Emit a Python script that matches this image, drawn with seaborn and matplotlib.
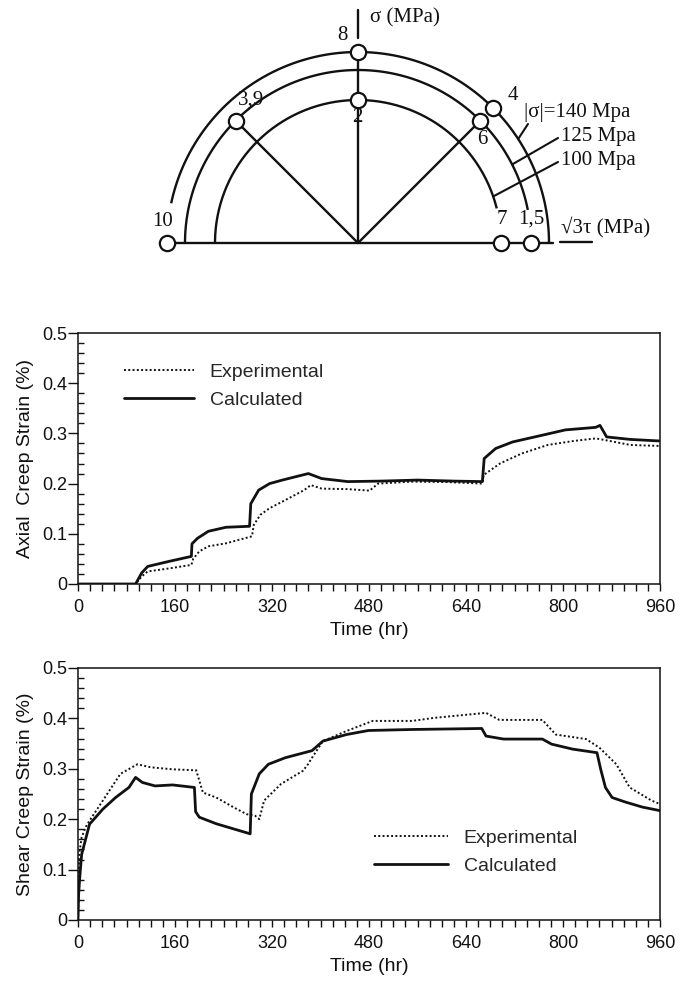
import numpy as np
import pandas as pd
import matplotlib
matplotlib.use("Agg")
import matplotlib.pyplot as plt
import seaborn as sns

# ---------------- data ----------------
stress_levels = [140, 125, 100]          # |sigma| rings (MPa)
load_labels = ["8", "2", "3,9", "6", "4", "7", "1,5", "10"]
load_levels = [140, 100, 125, 125, 140, 100, 125, 140]
load_angles = [90, 90, 135, 45, 45, 0, 0, 180]   # degrees from sqrt(3)tau axis

x_ticks = [0, 160, 320, 480, 640, 800, 960]
y_ticks = [0, 0.1, 0.2, 0.3, 0.4, 0.5]
y_tick_labels = ["0", "0.1", "0.2", "0.3", "0.4", "0.5"]

axial_t_calc = [0, 95, 105, 115, 150, 187, 188, 197, 215, 244, 283, 285, 298, 316,
                337, 360, 380, 402, 445, 500, 560, 620, 667, 670, 689, 717, 768,
                804, 854, 861, 872, 911, 958]
axial_calc = [0, 0, 0.022, 0.035, 0.045, 0.055, 0.08, 0.091, 0.105, 0.113, 0.115,
              0.16, 0.187, 0.2, 0.207, 0.214, 0.22, 0.21, 0.204, 0.205, 0.207,
              0.205, 0.204, 0.25, 0.27, 0.283, 0.297, 0.307, 0.312, 0.316, 0.293,
              0.288, 0.285]
axial_t_exp = [0, 95, 105, 115, 150, 187, 190, 200, 215, 244, 287, 290, 301, 316,
               337, 373, 384, 402, 445, 481, 495, 552, 610, 667, 669, 696, 732,
               775, 818, 854, 868, 911, 958]
axial_exp = [0, 0, 0.015, 0.025, 0.031, 0.038, 0.05, 0.065, 0.075, 0.081, 0.095,
             0.118, 0.138, 0.151, 0.164, 0.187, 0.197, 0.19, 0.189, 0.186, 0.2,
             0.204, 0.203, 0.2, 0.217, 0.24, 0.26, 0.277, 0.285, 0.29, 0.287,
             0.277, 0.275]

shear_t_calc = [0, 1, 3, 6, 19, 41, 62, 84, 95, 106, 127, 156, 192, 194, 200, 228,
                256, 284, 286, 299, 314, 342, 386, 404, 443, 479, 551, 666, 673,
                702, 766, 781, 816, 856, 862, 870, 881, 903, 931, 960]
shear_calc = [0, 0.05, 0.086, 0.13, 0.19, 0.22, 0.243, 0.263, 0.283, 0.273, 0.266,
              0.268, 0.263, 0.215, 0.204, 0.191, 0.181, 0.171, 0.25, 0.29, 0.309,
              0.322, 0.336, 0.355, 0.368, 0.376, 0.378, 0.38, 0.365, 0.359, 0.359,
              0.349, 0.339, 0.332, 0.30, 0.263, 0.243, 0.234, 0.224, 0.217]
shear_t_exp = [0, 2, 6, 13, 19, 41, 70, 98, 120, 156, 195, 206, 228, 256, 278, 292,
               299, 307, 335, 371, 380, 386, 404, 443, 486, 551, 587, 630, 673, 695,
               766, 788, 838, 860, 888, 910, 946, 960]
shear_exp = [0, 0.13, 0.164, 0.185, 0.197, 0.237, 0.29, 0.309, 0.303, 0.299, 0.297,
             0.253, 0.243, 0.224, 0.21, 0.207, 0.2, 0.237, 0.27, 0.296, 0.31, 0.322,
             0.355, 0.375, 0.395, 0.395, 0.401, 0.406, 0.411, 0.397, 0.397, 0.368,
             0.359, 0.342, 0.309, 0.263, 0.237, 0.23]

# ---------------- style ----------------
sns.set_theme(style="ticks")
plt.rcParams["font.family"] = ["Liberation Sans", "DejaVu Sans"]
INK = "#111111"
SERIF = ["Liberation Serif", "DejaVu Serif"]

fig = plt.figure(figsize=(6.81, 9.82), dpi=100)
W, H = 681.0, 982.0

# ---------------- top schematic (pixel units) ----------------
axd = fig.add_axes([0, 1 - 260 / H, 1, 260 / H])
axd.set_xlim(0, W)
axd.set_ylim(260, 0)
axd.axis("off")
cx, cy = 358, 243


def rad(level):
    # schematic ring radius (drawing is not to scale)
    return 23 + 1.2 * level


def pt(level, ang):
    a = np.deg2rad(ang)
    r = rad(level)
    return cx + r * np.cos(a), cy - r * np.sin(a)


arc_span = {140: (0, 168), 125: (11, 180), 100: (14, 180)}
for lev in stress_levels:
    a0, a1 = arc_span[lev]
    th = np.deg2rad(np.linspace(a0, a1, 200))
    axd.plot(cx + rad(lev) * np.cos(th), cy - rad(lev) * np.sin(th), color=INK, lw=1.7,
             solid_capstyle="butt")

# baseline, axes
axd.plot([165, 553], [cy, cy], color=INK, lw=1.7)
axd.plot([560, 592], [cy - 1, cy - 1], color=INK, lw=1.7)
axd.plot([cx, cx], [10, 38], color=INK, lw=1.7)
# radial lines
for lev, ang in [(125, 135), (140, 90), (125, 45)]:
    x1, y1 = pt(lev, ang)
    axd.plot([cx, x1], [cy, y1], color=INK, lw=1.7)

# leader lines for ring labels
for lev, ang, tx, ty in [(140, 33, 528, 124), (125, 27, 558, 138), (100, 19, 558, 162)]:
    x1, y1 = pt(lev, ang)
    axd.plot([x1, tx], [y1, ty], color=INK, lw=1.5)

# load points
for lab, lev, ang in zip(load_labels, load_levels, load_angles):
    x1, y1 = pt(lev, ang)
    axd.plot([x1], [y1], marker="o", ms=11, mfc="white", mec=INK, mew=1.6, zorder=5)

label_pos = {"8": (342, 36), "2": (357, 117), "3,9": (251, 100), "6": (482, 140),
             "4": (513, 96), "7": (502, 219), "1,5": (531, 219), "10": (163, 221)}
for lab in load_labels:
    x, y = label_pos[lab]
    axd.text(x, y, lab, ha="center", va="center", fontsize=15, family=SERIF, color=INK)

axd.text(370, 18, "\u03c3 (MPa)", ha="left", va="center", fontsize=15, family=SERIF, color=INK)
axd.text(524, 113, "|\u03c3|=140 Mpa", ha="left", va="center", fontsize=15, family=SERIF, color=INK)
axd.text(561, 137, "125 Mpa", ha="left", va="center", fontsize=15, family=SERIF, color=INK)
axd.text(561, 160, "100 Mpa", ha="left", va="center", fontsize=15, family=SERIF, color=INK)
axd.text(561, 227, "\u221a3\u03c4 (MPa)", ha="left", va="center", fontsize=15, family=SERIF, color=INK)


# ---------------- strain plots ----------------
def style_axes(ax, ylabel):
    ax.set_xlim(0, 960)
    ax.set_ylim(0, 0.5)
    ax.set_xticks(x_ticks)
    ax.set_xticks(np.arange(0, 961, 20), minor=True)
    ax.set_yticks(y_ticks)
    ax.set_yticklabels(y_tick_labels)
    ax.set_yticks(np.arange(0, 0.501, 0.02), minor=True)
    ax.tick_params(axis="x", which="both", direction="out", length=5, width=1,
                   color=INK, pad=6, labelsize=13, labelcolor=INK)
    ax.tick_params(axis="y", which="major", direction="out", length=7, width=1,
                   color=INK, pad=1, labelsize=13, labelcolor=INK)
    ax.tick_params(axis="y", which="minor", direction="in", length=4, width=1, color=INK)
    for s in ax.spines.values():
        s.set_visible(True)
        s.set_linewidth(1.1)
        s.set_color(INK)
    ax.set_xlabel("Time (hr)", fontsize=14, color=INK)
    ax.set_ylabel(ylabel, fontsize=14, color=INK)
    ax.yaxis.set_label_coords(-0.075, 0.5)
    ax.xaxis.set_label_coords(0.5, -0.15)
    ax.set_facecolor("white")


def draw_series(ax, t_exp, v_exp, t_calc, v_calc):
    d_exp = pd.DataFrame({"t": t_exp, "v": v_exp})
    d_calc = pd.DataFrame({"t": t_calc, "v": v_calc})
    sns.lineplot(data=d_exp, x="t", y="v", ax=ax, color=INK, lw=1.4,
                 linestyle=(0, (1, 1.2)), sort=False, estimator=None, label="Experimental")
    sns.lineplot(data=d_calc, x="t", y="v", ax=ax, color=INK, lw=2.0,
                 sort=False, estimator=None, label="Calculated")


ax1 = fig.add_axes([78 / W, (H - 584) / H, 582 / W, 251 / H])
draw_series(ax1, axial_t_exp, axial_exp, axial_t_calc, axial_calc)
style_axes(ax1, "Axial  Creep Strain (%)")
ax1.legend(loc="upper left", bbox_to_anchor=(0.079, 0.88), frameon=False, fontsize=14,
           handlelength=3.6, handletextpad=0.8, labelspacing=0.55, borderpad=0,
           borderaxespad=0)

ax2 = fig.add_axes([78 / W, (H - 920) / H, 582 / W, 252 / H])
draw_series(ax2, shear_t_exp, shear_exp, shear_t_calc, shear_calc)
style_axes(ax2, "Shear Creep Strain (%)")
ax2.legend(loc="upper left", bbox_to_anchor=(0.509, 0.36), frameon=False, fontsize=14,
           handlelength=3.8, handletextpad=0.8, labelspacing=0.55, borderpad=0,
           borderaxespad=0)

fig.savefig("out.png", dpi=100, facecolor="white")
